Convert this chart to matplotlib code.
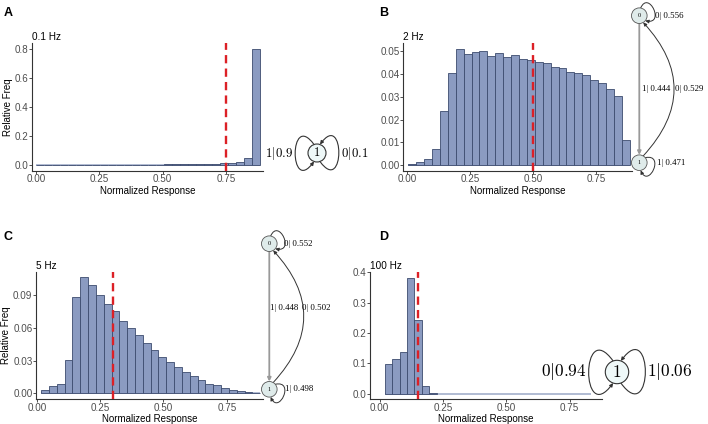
import numpy as np
import matplotlib.pyplot as plt
from matplotlib.patches import Circle, FancyArrowPatch
from matplotlib.path import Path

plt.rcParams['font.family'] = ['Liberation Sans', 'DejaVu Sans']
plt.rcParams['mathtext.fontset'] = 'cm'

# relative frequency per histogram bin
freq_01hz = [0.0004, 0.0004, 0.0005, 0.0005, 0.0006, 0.0007, 0.0008, 0.0010,
             0.0011, 0.0012, 0.0014, 0.0016, 0.0018, 0.0020, 0.0023, 0.0026,
             0.0030, 0.0035, 0.0040, 0.0050, 0.0060, 0.0070, 0.0090, 0.0120,
             0.0160, 0.0220, 0.0460, 0.8000]
freq_2hz = [0.0004, 0.0012, 0.0024, 0.0068, 0.0237, 0.0404, 0.0510, 0.0488,
            0.0497, 0.0500, 0.0479, 0.0493, 0.0475, 0.0484, 0.0467, 0.0463,
            0.0455, 0.0448, 0.0430, 0.0426, 0.0408, 0.0405, 0.0396, 0.0375,
            0.0360, 0.0336, 0.0305, 0.0110]
freq_5hz = [0.0030, 0.0067, 0.0085, 0.0303, 0.0885, 0.1060, 0.0994, 0.0900,
            0.0818, 0.0751, 0.0660, 0.0594, 0.0530, 0.0464, 0.0400, 0.0336,
            0.0285, 0.0240, 0.0197, 0.0164, 0.0121, 0.0090, 0.0076, 0.0050,
            0.0033, 0.0020, 0.0010, 0.0005]
freq_100hz = [0.099, 0.115, 0.137, 0.382, 0.243, 0.024, 0.003] + [0.0] * 21

# first left edge / last right edge of the bins
bins_01hz = (0.0, 0.885)
bins_2hz = (0.005, 0.884)
bins_5hz = (0.017, 0.882)
bins_100hz = (0.022, 0.834)

# red dashed line position
mark_01hz, mark_2hz, mark_5hz, mark_100hz = 0.75, 0.50, 0.30, 0.15

# transition probabilities of the fitted machines
trans_01hz = [0.9, 0.1]                    # 1|p, 0|p  (one state)
trans_2hz = [0.556, 0.444, 0.529, 0.471]   # 0->0, 0->1, 1->0, 1->1
trans_5hz = [0.552, 0.448, 0.502, 0.498]
trans_100hz = [0.94, 0.06]                 # 0|p, 1|p  (one state)

xticks = [0.0, 0.25, 0.5, 0.75]

W, H = 708, 424
fig = plt.figure(figsize=(W / 100, H / 100), dpi=100)

fill_col = '#8B9BC1'
edge_col = '#3C4B6E'
base_col = '#AAB5CF'
red_col = '#DC2026'


def box(x0, y0, x1, y1):
    return [x0 / W, 1 - y1 / H, (x1 - x0) / W, (y1 - y0) / H]


def hist_panel(rect, freq, bins, mark, yticks, yfmt, xlim, ylim, title, ylabel):
    ax = fig.add_axes(rect)
    freq = np.asarray(freq)
    edges = np.linspace(bins[0], bins[1], len(freq) + 1)
    ax.plot([edges[0], edges[-1]], [0, 0], color=base_col, lw=1.3, zorder=1,
            solid_capstyle='butt')
    nz = freq > 0
    ax.bar(edges[:-1][nz], freq[nz], width=np.diff(edges)[nz], align='edge',
           color=fill_col, edgecolor=edge_col, linewidth=0.6, zorder=2)
    ax.axvline(mark, color=red_col, lw=1.7, dashes=(3.5, 2.2), zorder=3)
    ax.set_xlim(*xlim)
    ax.set_ylim(*ylim)
    ax.set_xticks(xticks, ['%.2f' % t for t in xticks])
    ax.set_yticks(yticks, [yfmt % t for t in yticks])
    for s in ['top', 'right']:
        ax.spines[s].set_visible(False)
    for s in ['left', 'bottom']:
        ax.spines[s].set_color('#333333')
        ax.spines[s].set_linewidth(0.8)
    ax.tick_params(length=2.0, width=0.6, color='#333333', pad=0.6,
                   labelsize=7.1, labelcolor='#4D4D4D')
    ax.set_xlabel('Normalized Response', fontsize=7, labelpad=1)
    if ylabel:
        ax.set_ylabel('Relative Freq', fontsize=7, labelpad=1.5)
    ax.set_title(title, loc='left', fontsize=7.2, pad=2.5)
    return ax


hist_panel(box(32, 43.3, 263, 170.7), freq_01hz, bins_01hz, mark_01hz,
           [0, 0.2, 0.4, 0.6, 0.8], '%.1f', (-0.016, 0.896), (-0.04, 0.84),
           '0.1 Hz', True)
hist_panel(box(403, 43.3, 632, 170.7), freq_2hz, bins_2hz, mark_2hz,
           [0, 0.01, 0.02, 0.03, 0.04, 0.05], '%.2f', (-0.016, 0.893),
           (-0.00255, 0.0536), '2 Hz', False)
hist_panel(box(36, 272, 263, 399.3), freq_5hz, bins_5hz, mark_5hz,
           [0, 0.03, 0.06, 0.09], '%.2f', (-0.003, 0.893), (-0.0053, 0.111),
           '5 Hz', True)
hist_panel(box(370, 272, 602, 399.3), freq_100hz, bins_100hz, mark_100hz,
           [0, 0.1, 0.2, 0.3, 0.4], '%.1f', (-0.0375, 0.878), (-0.019, 0.401),
           '100 Hz', False)

# overlay in pixel coordinates for the state diagrams and panel letters
ov = fig.add_axes([0, 0, 1, 1])
ov.set_xlim(0, W)
ov.set_ylim(H, 0)
ov.axis('off')

for lab, (x, y) in zip('ABCD', [(8, 13), (384, 13), (8, 237), (384, 237)]):
    ov.text(x, y, lab, fontsize=9, fontweight='bold', ha='center', va='center')


def curve(pts, lw=0.8, ms=5, col='#333333'):
    p = FancyArrowPatch(path=Path(pts, [Path.MOVETO, Path.CURVE4, Path.CURVE4, Path.CURVE4]),
                        arrowstyle='-|>', mutation_scale=ms, lw=lw, color=col)
    ov.add_patch(p)


def bowtie(cx, cy, r, s, left_txt, right_txt, fs):
    ov.add_patch(Circle((cx, cy), r, facecolor='#EEF8F8', edgecolor='#333333', lw=0.8, zorder=3))
    ov.text(cx, cy, '$1$', fontsize=fs, ha='center', va='center', zorder=4)
    a, b, e = 28 * s, 43 * s, 8.5 * s
    curve([(cx - 3 * s, cy - e), (cx - a, cy - b), (cx - a, cy + b), (cx - 3 * s, cy + e)])
    curve([(cx + 3 * s, cy + e), (cx + a, cy + b), (cx + a, cy - b), (cx + 3 * s, cy - e)])
    ov.text(cx - a * 0.78 - 2, cy, left_txt, fontsize=fs, ha='right', va='center')
    ov.text(cx + a * 0.78 + 2, cy, right_txt, fontsize=fs, ha='left', va='center')


bowtie(317, 153, 9, 1.0, r'$1|%g$' % trans_01hz[0], r'$0|%g$' % trans_01hz[1], 9.3)
bowtie(617, 372, 11.7, 1.3, r'$0|%g$' % trans_100hz[0], r'$1|%g$' % trans_100hz[1], 12.5)


def two_state(cx, y0, y1, r, probs, lab_pos):
    serif = ['Liberation Serif', 'DejaVu Serif']
    for y, n in [(y0, '0'), (y1, '1')]:
        ov.add_patch(Circle((cx, y), r, facecolor='#DFEBEA', edgecolor='#555555', lw=0.6, zorder=3))
        ov.text(cx, y, n, fontsize=4.5, family=serif, ha='center', va='center', zorder=4)
    # straight 0 -> 1
    ov.add_patch(FancyArrowPatch((cx, y0 + r), (cx, y1 - r), arrowstyle='-|>',
                                 mutation_scale=5, lw=1.3, color='#999999',
                                 shrinkA=0, shrinkB=0))
    # curved 1 -> 0
    ang = np.radians(60)
    ov.add_patch(FancyArrowPatch((cx + r * np.cos(ang), y1 - r * np.sin(ang)),
                                 (cx + r * np.cos(ang), y0 + r * np.sin(ang)),
                                 connectionstyle='arc3,rad=0.46', arrowstyle='-|>',
                                 mutation_scale=5, lw=0.7, color='#333333',
                                 shrinkA=0, shrinkB=0))
    # self loops
    def d(a):
        a = np.radians(a)
        return np.array([np.cos(a), -np.sin(a)])
    c0 = np.array([cx, y0])
    curve([c0 + r * d(80), c0 + (r + 20) * d(70), c0 + (r + 20) * d(-20), c0 + r * d(-40)], lw=0.7)
    c1 = np.array([cx, y1])
    curve([c1 + r * d(40), c1 + (r + 20) * d(20), c1 + (r + 20) * d(-70), c1 + r * d(-80)], lw=0.7)
    texts = ['0| %.3f' % probs[0], '1| %.3f' % probs[1], '0| %.3f' % probs[2], '1| %.3f' % probs[3]]
    for t, (x, y) in zip(texts, lab_pos):
        ov.text(x, y, t, fontsize=6.3, family=serif, ha='left', va='center')


two_state(639.3, 15.7, 162.7, 7.8, trans_2hz,
          [(655, 15.7), (641.7, 89.3), (675, 89.3), (656.7, 162.7)])
two_state(269.3, 243.7, 389.3, 7.8, trans_5hz,
          [(284, 243.7), (270.5, 307.7), (301.7, 307.7), (285, 389.3)])

fig.savefig('out.png', dpi=100)
